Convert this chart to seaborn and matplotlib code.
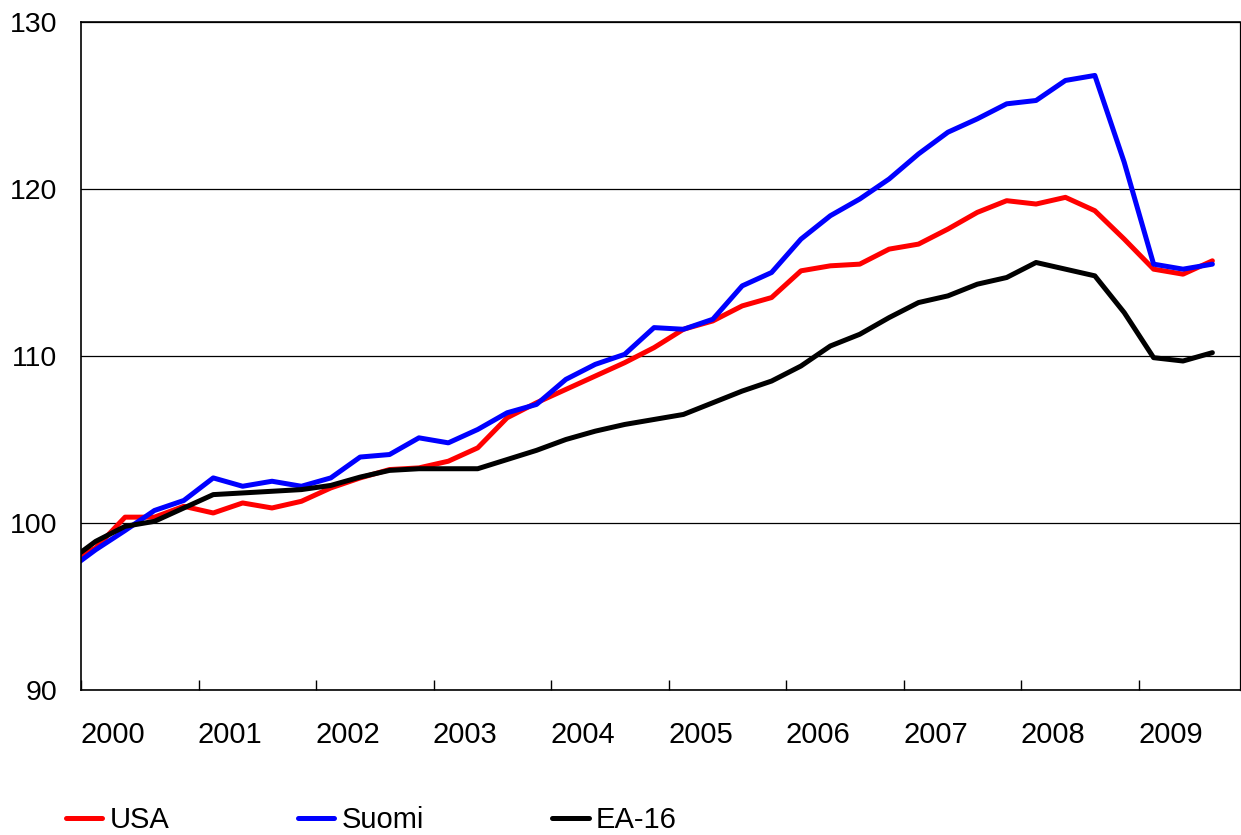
import numpy as np
import pandas as pd
import matplotlib
matplotlib.use("Agg")
import matplotlib.pyplot as plt
import seaborn as sns

# -------------------------
# Data (quarterly index)
# first value is 1999Q4, only its segment into 2000 is visible
# -------------------------

quarters = pd.period_range("1999Q4", "2009Q3", freq="Q")

usa = [97.6, 98.5, 100.35, 100.35, 101.0, 100.6, 101.2, 100.9, 101.3, 102.1,
       102.7, 103.2, 103.3, 103.7, 104.5, 106.3, 107.2, 108.0, 108.8, 109.6,
       110.5, 111.6, 112.1, 113.0, 113.5, 115.1, 115.4, 115.5, 116.4, 116.7,
       117.6, 118.6, 119.3, 119.1, 119.5, 118.7, 117.0, 115.2, 114.9, 115.7]

suomi = [97.1, 98.4, 99.55, 100.75, 101.35, 102.7, 102.2, 102.5, 102.2, 102.7,
         103.95, 104.1, 105.1, 104.8, 105.6, 106.6, 107.1, 108.6, 109.5, 110.1,
         111.7, 111.6, 112.2, 114.2, 115.0, 117.0, 118.4, 119.4, 120.6, 122.1,
         123.4, 124.2, 125.1, 125.3, 126.5, 126.8, 121.6, 115.5, 115.2, 115.5]

ea16 = [97.6, 98.9, 99.8, 100.1, 100.9, 101.7, 101.8, 101.9, 102.0, 102.25,
        102.75, 103.15, 103.25, 103.25, 103.25, 103.8, 104.35, 105.0, 105.5, 105.9,
        106.2, 106.5, 107.2, 107.9, 108.5, 109.4, 110.6, 111.3, 112.3, 113.2,
        113.6, 114.3, 114.7, 115.6, 115.2, 114.8, 112.6, 109.9, 109.7, 110.2]

series_names = ["USA", "Suomi", "EA-16"]
series_colors = ["#ff0000", "#0000ff", "#000000"]
years = list(range(2000, 2010))

# mid-quarter position in decimal years
t = np.array([q.year + (q.quarter - 1) / 4 + 0.125 for q in quarters])

df = pd.DataFrame({"t": t, "USA": usa, "Suomi": suomi, "EA-16": ea16})
df_long = df.melt(id_vars="t", var_name="series", value_name="value")

# -------------------------
# Plot
# -------------------------

sns.set_theme(style="white")
plt.rcParams["font.family"] = ["Liberation Sans", "DejaVu Sans"]
plt.rcParams["text.color"] = "black"

fig = plt.figure(figsize=(12.41, 8.35), dpi=100)
ax = fig.add_axes([81 / 1241, 1 - 690 / 835, 1159 / 1241, 668 / 835])

sns.lineplot(
    data=df_long, x="t", y="value", hue="series",
    hue_order=series_names, palette=series_colors,
    linewidth=3.6, ax=ax, legend=True
)

ax.set_xlim(2000, 2009.86)
ax.set_ylim(90, 130)
ax.set_xlabel("")
ax.set_ylabel("")

ax.set_yticks([90, 100, 110, 120, 130])
ax.yaxis.grid(True, color="black", linewidth=0.9)
ax.xaxis.grid(False)
ax.tick_params(axis="y", length=0, pad=17, labelsize=20.5, labelcolor="black")

# year boundaries as inward ticks, labels placed inside each year
ax.set_xticks(years)
ax.set_xticklabels([])
ax.tick_params(axis="x", which="major", direction="in", length=7, width=1,
               color="black", bottom=True)
ax.set_xticks([y + 0.27 for y in years], minor=True)
ax.set_xticklabels([str(y) for y in years], minor=True)
ax.tick_params(axis="x", which="minor", length=0, pad=22, labelsize=21,
               labelcolor="black")

for side in ["left", "bottom", "top", "right"]:
    ax.spines[side].set_visible(True)
    ax.spines[side].set_color("black")
    ax.spines[side].set_linewidth(1.2)
ax.spines["right"].set_linewidth(0.9)

handles, labels = ax.get_legend_handles_labels()
ax.get_legend().remove()
leg = fig.legend(
    handles, labels, loc="center left", bbox_to_anchor=(66 / 1241, 15 / 835),
    ncol=3, frameon=False, fontsize=21, handlelength=1.25, handletextpad=0.25,
    columnspacing=4.4, borderpad=0, borderaxespad=0, labelcolor="black"
)
for line in leg.get_lines():
    line.set_linewidth(3.6)

fig.savefig("out.png", dpi=100)
plt.close(fig)
